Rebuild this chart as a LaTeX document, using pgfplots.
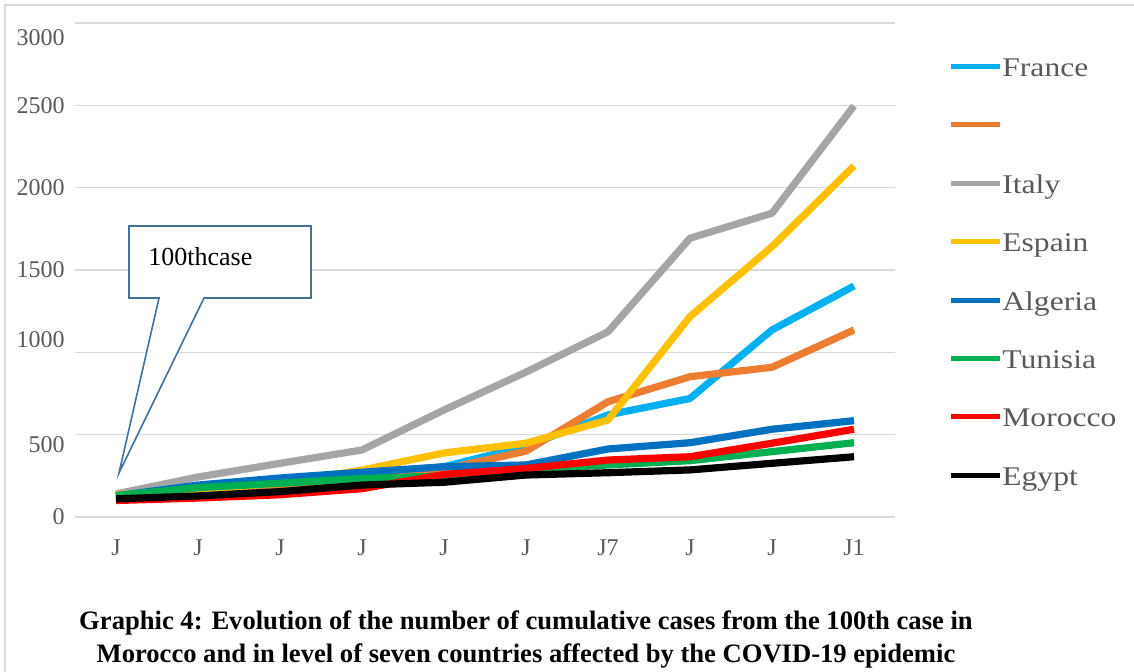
\documentclass[border=0pt]{standalone}
\usepackage{fontspec}
\setmainfont{Liberation Serif}
\newfontfamily\legfont[FakeStretch=1.17]{Liberation Serif}
\usepackage{pgfplots}
\pgfplotsset{compat=1.18}
\definecolor{cFrance}{HTML}{00B0F0}
\definecolor{cOrange}{HTML}{ED7D31}
\definecolor{cItaly}{HTML}{A5A5A5}
\definecolor{cSpain}{HTML}{FFC000}
\definecolor{cAlgeria}{HTML}{0070C0}
\definecolor{cTunisia}{HTML}{00B050}
\definecolor{cMorocco}{HTML}{FF0000}
\definecolor{cEgypt}{HTML}{000000}
\definecolor{gridgray}{HTML}{D9D9D9}
\definecolor{textgray}{HTML}{595959}
\definecolor{callout}{HTML}{41719C}
\begin{document}
\begin{tikzpicture}[x=1pt,y=1pt]
\useasboundingbox (0,0) rectangle (567,-336);
\draw[gridgray, line width=0.7pt] (2.5,-340) -- (2.5,-2.5) -- (570,-2.5);
\begin{axis}[
  at={(37.5pt,-258.5pt)}, anchor=south west,
  scale only axis, width=410pt, height=247pt,
  xmin=-0.5, xmax=9.5, ymin=0, ymax=3000,
  axis line style={draw=none},
  major tick length=0pt,
  xtick={0,...,9},
  xticklabels={J,J,J,J,J,J,J7,J,J,J1},
  ytick={0,500,...,3000},
  yticklabels={0,\raisebox{-5pt}{500},\raisebox{6.5pt}{1000},1500,2000,2500,\raisebox{-7.5pt}{3000}},
  ymajorgrids,
  grid style={gridgray, line width=0.75pt},
  tick label style={font=\fontsize{12}{14}\selectfont, text=textgray, inner sep=0pt, text height=8pt, text depth=0pt},
  yticklabel style={anchor=east, xshift=-5pt},
  xticklabel style={anchor=center, yshift=-15.5pt},
  every axis plot/.append style={line width=3.6pt, line join=round},
  clip=false,
  legend style={at={(axis description cs:1.0646,0.9332)}, anchor=north west,
    draw=none, fill=none, inner sep=0pt, row sep=19.2pt,
    font=\legfont\fontsize{13.5}{16}\selectfont, text=textgray,
    nodes={inner sep=0pt, text height=10pt, text depth=0pt},
    /tikz/every even column/.append style={column sep=3pt}},
  legend cell align=left,
  legend image code/.code={\draw[line width=2.5pt] (0pt,0pt) -- (24.5pt,0pt);},
]
\addplot[cFrance] coordinates {(0,130) (1,185) (2,220) (3,262) (4,305) (5,430) (6,620) (7,720) (8,1136) (9,1403)};
\addlegendentry{France}
\addplot[cOrange] coordinates {(0,120) (1,150) (2,190) (3,235) (4,290) (5,400) (6,700) (7,852) (8,909) (9,1136)};
\addlegendentry{}
\addplot[cItaly] coordinates {(0,140) (1,243) (2,326) (3,407) (4,650) (5,880) (6,1125) (7,1693) (8,1845) (9,2497)};
\addlegendentry{Italy}
\addplot[cSpain] coordinates {(0,135) (1,165) (2,206) (3,285) (4,389) (5,448) (6,589) (7,1217) (8,1642) (9,2132)};
\addlegendentry{Espain}
\addplot[cAlgeria] coordinates {(0,128) (1,194) (2,237) (3,272) (4,305) (5,316) (6,413) (7,451) (8,533) (9,585)};
\addlegendentry{Algeria}
\addplot[cTunisia] coordinates {(0,130) (1,178) (2,205) (3,234) (4,250) (5,290) (6,316) (7,342) (8,397) (9,451)};
\addlegendentry{Tunisia}
\addplot[cMorocco] coordinates {(0,100) (1,115) (2,135) (3,172) (4,258) (5,295) (6,346) (7,366) (8,448) (9,533)};
\addlegendentry{Morocco}
\addplot[cEgypt] coordinates {(0,110) (1,128) (2,154) (3,194) (4,211) (5,255) (6,269) (7,286) (8,326) (9,366)};
\addlegendentry{Egypt}
\end{axis}
% callout annotation
\draw[callout, line width=0.8pt, fill=white, line join=miter]
  (64.5,-113) -- (155.5,-113) -- (155.5,-149) -- (102,-149) -- (59.5,-236.5) -- (79.5,-149) -- (64.5,-149) -- cycle;
\node[anchor=west, inner sep=0pt, font=\fontsize{13}{15}\selectfont] at (74,-128.5) {100thcase};
% caption
\node[anchor=base, inner sep=0pt, font=\bfseries\fontsize{13.3}{15}\selectfont] at (263,-315) {Graphic 4: Evolution of the number of cumulative cases from the 100th case in};
\node[anchor=base, inner sep=0pt, font=\bfseries\fontsize{13.3}{15}\selectfont] at (263,-331.4) {Morocco and in level of seven countries affected by the COVID-19 epidemic};
\end{tikzpicture}
\end{document}
